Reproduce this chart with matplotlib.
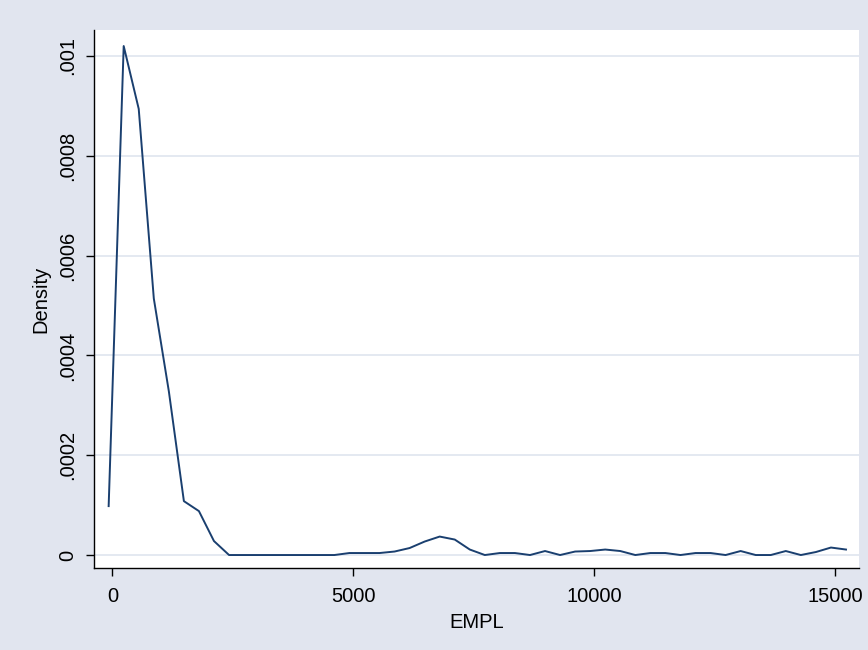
import matplotlib
matplotlib.use("Agg")
import matplotlib.pyplot as plt

# kernel density of EMPL
empl = [-76, 236, 548, 861, 1173, 1485, 1797, 2109, 2422, 2734,
        3046, 3358, 3670, 3983, 4295, 4607, 4919, 5231, 5544, 5856,
        6168, 6480, 6792, 7105, 7417, 7729, 8041, 8353, 8666, 8978,
        9290, 9602, 9914, 10227, 10539, 10851, 11163, 11475, 11788, 12100,
        12412, 12724, 13036, 13349, 13661, 13973, 14285, 14597, 14910, 15222]
density = [98e-6, 1020e-6, 894e-6, 514e-6, 328e-6, 108e-6, 88e-6, 28e-6, 0, 0,
           0, 0, 0, 0, 0, 0, 4e-6, 4e-6, 4e-6, 7e-6,
           14e-6, 27e-6, 37e-6, 31e-6, 11e-6, 0, 4e-6, 4e-6, 0, 8e-6,
           0, 7e-6, 8e-6, 11e-6, 8e-6, 0, 4e-6, 4e-6, 0, 4e-6,
           4e-6, 0, 8e-6, 0, 0, 8e-6, 0, 6e-6, 15e-6, 11e-6]

xticks = [0, 5000, 10000, 15000]
xticklabels = ["0", "5000", "10000", "15000"]
yticks = [0, 0.0002, 0.0004, 0.0006, 0.0008, 0.001]
yticklabels = ["0", ".0002", ".0004", ".0006", ".0008", ".001"]

plt.rcParams['font.family'] = ['Liberation Sans', 'DejaVu Sans']

bg = '#e1e5ef'
grid_col = '#dfe5ef'
navy = '#1a3f6f'

fig = plt.figure(figsize=(8.68, 6.5), dpi=100, facecolor=bg)
ax = fig.add_axes([94 / 868, 1 - 568 / 650, (859 - 94) / 868, (568 - 30) / 650])
ax.set_facecolor('white')

ax.plot(empl, density, color=navy, linewidth=1.4)

ax.set_xlim(-380, 15492)
ax.set_ylim(-2.6e-5, 1.0521e-3)

ax.set_xticks(xticks)
ax.set_xticklabels(xticklabels)
ax.set_yticks(yticks)
ax.set_yticklabels(yticklabels, rotation=90, va='center')

ax.yaxis.grid(True, color=grid_col, linewidth=1.2)
ax.set_axisbelow(True)

for s in ['top', 'right']:
    ax.spines[s].set_visible(False)
for s in ['left', 'bottom']:
    ax.spines[s].set_linewidth(1.0)

ax.tick_params(axis='both', direction='out', length=6, width=1.0, labelsize=14.5)
ax.tick_params(axis='x', pad=8)
ax.tick_params(axis='y', pad=6)

ax.set_xlabel("EMPL", fontsize=14.5, labelpad=5)
ax.set_ylabel("Density", fontsize=14.5, labelpad=6)

fig.savefig("out.png", dpi=100, facecolor=bg)
